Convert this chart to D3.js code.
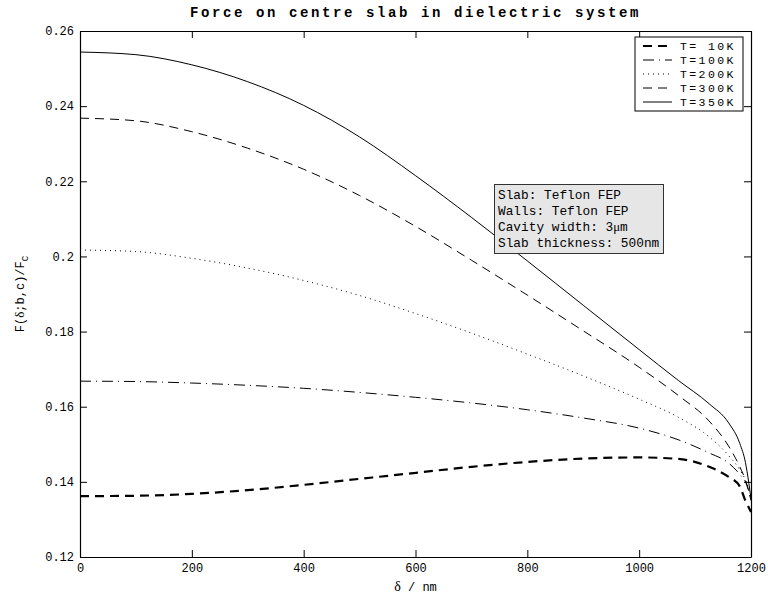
<!DOCTYPE html>
<html>
<head>
<meta charset="utf-8">
<script src="https://cdn.jsdelivr.net/npm/d3@7/dist/d3.min.js"></script>
<style>
  html, body { margin: 0; padding: 0; background: #fff; }
  svg { display: block; }
  text { font-family: "Liberation Mono", "DejaVu Sans Mono", monospace; fill: #000; }
</style>
</head>
<body>
<svg id="chart" width="768" height="596"></svg>
<script>
// ---------- data ----------
const delta = [0, 100, 200, 300, 400, 500, 600, 700, 800, 900, 1000, 1070, 1125, 1160, 1180, 1190, 1196, 1200];
const T10  = [0.1362, 0.1363, 0.1368, 0.1378, 0.1392, 0.1408, 0.1424, 0.1440, 0.1453, 0.1462, 0.1465, 0.1461, 0.1440, 0.1413, 0.1388, 0.1350, 0.1332, 0.1320];
const T100 = [0.1668, 0.1667, 0.1663, 0.1657, 0.1649, 0.1638, 0.1625, 0.1610, 0.1592, 0.1570, 0.1543, 0.1512, 0.1477, 0.1450, 0.1420, 0.1400, 0.1375, 0.1350];
const T200 = [0.2017, 0.2013, 0.1995, 0.1969, 0.1936, 0.1896, 0.1848, 0.1796, 0.1740, 0.1682, 0.1620, 0.1572, 0.1520, 0.1470, 0.1432, 0.1405, 0.1380, 0.1360];
const T300 = [0.2368, 0.2361, 0.2332, 0.2288, 0.2232, 0.2162, 0.2080, 0.1990, 0.1897, 0.1802, 0.1705, 0.1630, 0.1562, 0.1495, 0.1440, 0.1405, 0.1375, 0.1350];
const T350 = [0.2544, 0.2537, 0.2510, 0.2465, 0.2402, 0.2318, 0.2215, 0.2104, 0.1988, 0.1870, 0.1752, 0.1670, 0.1608, 0.1557, 0.1502, 0.1452, 0.1398, 0.1355];
const seriesNames = ["T= 10K", "T=100K", "T=200K", "T=300K", "T=350K"];
const xTicks = [0, 200, 400, 600, 800, 1000, 1200];
const yTicks = [0.12, 0.14, 0.16, 0.18, 0.2, 0.22, 0.24, 0.26];
const yTickLabels = ["0.12", "0.14", "0.16", "0.18", "0.2", "0.22", "0.24", "0.26"];
const infoLines = ["Slab: Teflon FEP", "Walls: Teflon FEP", "Cavity width: 3", "Slab thickness: 500nm"];

// ---------- layout ----------
const L = 80, R = 751, T = 31, B = 557;
const svg = d3.select("#chart");
const x = d3.scaleLinear().domain([0, 1200]).range([L, R]);
const y = d3.scaleLinear().domain([0.12, 0.26]).range([B, T]);

const styles = [
  { w: 2.2, dash: "9,6" },
  { w: 1, dash: "11,5,1,5" },
  { w: 1, dash: "1,4" },
  { w: 1, dash: "9,6" },
  { w: 1, dash: null }
];
const allSeries = [T10, T100, T200, T300, T350];

svg.append("defs").append("clipPath").attr("id", "clip")
  .append("rect").attr("x", L).attr("y", T).attr("width", R - L).attr("height", B - T);

// curves
const line = d3.line().x(d => x(d[0])).y(d => y(d[1])).curve(d3.curveMonotoneX);
const curves = svg.append("g").attr("clip-path", "url(#clip)");
allSeries.forEach((s, i) => {
  curves.append("path")
    .attr("d", line(delta.map((d, j) => [d, s[j]])))
    .attr("fill", "none")
    .attr("stroke", "#000")
    .attr("stroke-width", styles[i].w)
    .attr("stroke-dasharray", styles[i].dash);
});

// axes
const fmtY = d => yTickLabels[yTicks.indexOf(d)];
const gx = svg.append("g").attr("transform", `translate(0,${B})`)
  .call(d3.axisBottom(x).tickValues(xTicks).tickFormat(d3.format("d")).tickSizeInner(-7).tickSizeOuter(0).tickPadding(6));
const gy = svg.append("g").attr("transform", `translate(${L},0)`)
  .call(d3.axisLeft(y).tickValues(yTicks).tickFormat(fmtY).tickSizeInner(-7).tickSizeOuter(0).tickPadding(6));
const gt = svg.append("g").attr("transform", `translate(0,${T})`)
  .call(d3.axisTop(x).tickValues(xTicks).tickFormat("").tickSizeInner(-7).tickSizeOuter(0));
const gr = svg.append("g").attr("transform", `translate(${R},0)`)
  .call(d3.axisRight(y).tickValues(yTicks).tickFormat("").tickSizeInner(-7).tickSizeOuter(0));
[gx, gy, gt, gr].forEach(g => {
  g.selectAll(".domain").attr("stroke", "#000").attr("stroke-width", 1.2);
  g.selectAll(".tick line").attr("stroke", "#000");
  g.selectAll("text").attr("font-size", 12).attr("font-family", "Liberation Mono").attr("fill", "#333");
});

// title
svg.append("text").attr("x", (L + R) / 2).attr("y", 17).attr("text-anchor", "middle")
  .attr("font-size", 14).attr("font-weight", "bold").attr("letter-spacing", 2.6)
  .text("Force on centre slab in dielectric system");

// axis labels
svg.append("text").attr("x", (L + R) / 2).attr("y", 591).attr("text-anchor", "middle")
  .attr("font-size", 12).attr("fill", "#333")
  .html('<tspan font-family="Liberation Serif" font-size="14">δ</tspan> / nm');
const yl = svg.append("text").attr("transform", `translate(24,${(T + B) / 2}) rotate(-90)`)
  .attr("text-anchor", "middle").attr("font-size", 12).attr("fill", "#333");
yl.append("tspan").text("F(");
yl.append("tspan").attr("font-family", "Liberation Serif").attr("font-size", 13).text("δ");
yl.append("tspan").text(";b,c)/F");
yl.append("tspan").attr("font-size", 9).attr("dy", 4).text("C");

// legend
const lg = svg.append("g");
lg.append("rect").attr("x", 635).attr("y", 37).attr("width", 108).attr("height", 74)
  .attr("fill", "#fff").attr("stroke", "#000").attr("stroke-width", 1);
seriesNames.forEach((name, i) => {
  const cy = 46 + i * 14;
  lg.append("line").attr("x1", 643).attr("x2", 672).attr("y1", cy).attr("y2", cy)
    .attr("stroke", "#000").attr("stroke-width", styles[i].w)
    .attr("stroke-dasharray", styles[i].dash);
  lg.append("text").attr("x", 680).attr("y", cy + 4).attr("font-size", 11.5)
    .attr("letter-spacing", 2.4).text(name);
});

// info box
const ib = svg.append("g");
ib.append("rect").attr("x", 494.5).attr("y", 184.5).attr("width", 169).attr("height", 69)
  .attr("fill", "#e6e6e6").attr("stroke", "#333").attr("stroke-width", 1);
infoLines.forEach((t, i) => {
  const tx = ib.append("text").attr("x", 498).attr("y", 199 + i * 16).attr("font-size", 12.8).attr("fill", "#222");
  tx.append("tspan").text(t);
  if (i === 2) {
    tx.append("tspan").attr("font-family", "Liberation Serif").text("μ");
    tx.append("tspan").text("m");
  }
});
</script>
</body>
</html>
